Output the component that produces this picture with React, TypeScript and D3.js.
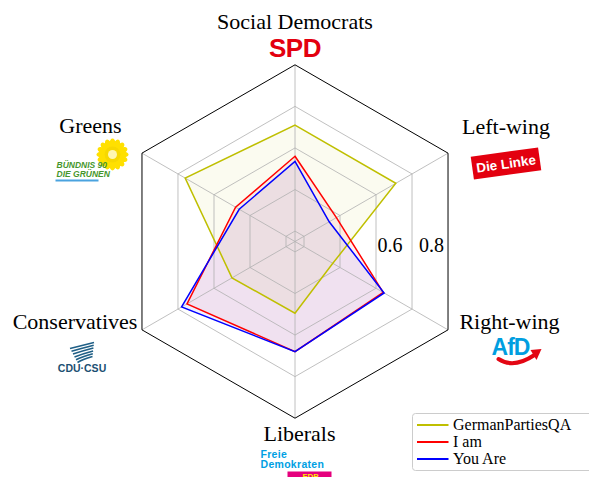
import React from 'react';
import * as d3 from 'd3';

// axes, clockwise from the top
const categories = ['Social Democrats', 'Left-wing', 'Right-wing', 'Liberals', 'Conservatives', 'Greens'];
const seriesNames = ['GermanPartiesQA', 'I am', 'You Are'];
const germanPartiesQA = [0.71, 0.71, 0.36, 0.495, 0.5, 0.76];
const iAm = [0.56, 0.38, 0.64, 0.68, 0.75, 0.48];
const youAre = [0.535, 0.34, 0.645, 0.68, 0.78, 0.46];
const gridTicks = [0.2, 0.4, 0.6, 0.8];
const labelledTicks = [0.6, 0.8];
const rDomain = [0.15, 1.0];

const W = 589;
const H = 477;
const cx = 295;
const cy = 241.5;
const R = 176.7;
const SERIF = '"Liberation Serif", "Times New Roman", serif';
const SANS = '"Liberation Sans", Arial, sans-serif';

const seriesColors = ['#bfbf00', '#ff0000', '#0000ff'];
const fillOpacity = [0.06, 0.06, 0.06];

// text baseline offsets from the centre for each axis label
const labelOffsets = [
  { dx: 0, dy: -212.5 },
  { dx: 211, dy: -108 },
  { dx: 214.5, dy: 87.5 },
  { dx: 4.5, dy: 199.5 },
  { dx: -220, dy: 87 },
  { dx: -204.5, dy: -109 },
];

const rScale = d3.scaleLinear().domain(rDomain).range([0, R]);
const angleOf = (i: number) => (i * 2 * Math.PI) / categories.length;

const radar = d3
  .lineRadial<number>()
  .angle((d, i) => angleOf(i))
  .radius((d) => rScale(d))
  .curve(d3.curveLinearClosed);

const ring = (v: number) => radar(categories.map(() => v)) as string;

function SpdLogo({ x, y }: { x: number; y: number }) {
  return (
    <text x={x} y={y} textAnchor="middle" fontFamily={SANS} fontWeight="bold" fontSize={26} fill="#e3000f" letterSpacing={-0.5}>
      SPD
    </text>
  );
}

function LinkeLogo({ x, y }: { x: number; y: number }) {
  return (
    <g transform={`translate(${x},${y}) rotate(-8)`}>
      <rect x={-34} y={-11.5} width={68} height={23} fill="#e3000f" />
      <text x={0} y={5} textAnchor="middle" fontFamily={SANS} fontWeight="bold" fontSize={13.5} fill="#fff">
        Die Linke
      </text>
    </g>
  );
}

function AfdLogo({ x, y }: { x: number; y: number }) {
  return (
    <g transform={`translate(${x},${y})`}>
      <text x={0} y={0} textAnchor="middle" fontFamily={SANS} fontWeight="bold" fontSize={23} fill="#009ee0" letterSpacing={-1}>
        AfD
      </text>
      <path d="M-12,4 Q3,14 24,0" fill="none" stroke="#e30613" strokeWidth={4} strokeLinecap="round" />
      <path d="M20,-5 L31,-6 L26,5 Z" fill="#e30613" />
    </g>
  );
}

function FdpLogo({ x, y }: { x: number; y: number }) {
  return (
    <g transform={`translate(${x},${y})`} fontFamily={SANS} fontWeight="bold" fill="#009fe3">
      <text x={0} y={0} fontSize={10.5} letterSpacing={0.3}>Freie</text>
      <text x={0} y={9.5} fontSize={10.5} letterSpacing={0.3}>Demokraten</text>
      <rect x={27} y={13.5} width={44} height={8} fill="#e5007d" />
      <text x={50} y={21} fontSize={8} fill="#ffed00" textAnchor="middle">FDP</text>
    </g>
  );
}

function CduLogo({ x, y }: { x: number; y: number }) {
  const stripes = [0, 1, 2, 3, 4, 5];
  return (
    <g transform={`translate(${x},${y})`}>
      {stripes.map((s) => (
        <path
          key={s}
          d={`M${-12 + s * 1.5},${-14 + s * 2.8} Q0,${-17 + s * 2.8} ${12 - s * 0.3},${-20 + s * 2.8}`}
          fill="none"
          stroke="#1f5f86"
          strokeWidth={1.6}
        />
      ))}
      <text x={0} y={9} textAnchor="middle" fontFamily={SANS} fontWeight="bold" fontSize={10.5} fill="#1b4f72">
        CDU·CSU
      </text>
    </g>
  );
}

function GreensLogo({ x, y }: { x: number; y: number }) {
  const petals = d3.range(16);
  return (
    <g transform={`translate(${x},${y})`}>
      <g transform="translate(22,-12)">
        {petals.map((p) => (
          <ellipse key={p} cx={0} cy={-11} rx={3} ry={5} fill="#ffe000" transform={`rotate(${(p * 360) / petals.length})`} />
        ))}
        <circle r={8} fill="#f7d800" />
        <circle r={4.5} fill="#fff6b0" />
      </g>
      <g fontFamily={SANS} fontWeight="bold" fontStyle="italic" fontSize={8.5} fill="#46962b">
        <text x={-34} y={1}>BÜNDNIS 90</text>
        <text x={-34} y={10}>DIE GRÜNEN</text>
      </g>
      <rect x={-35} y={13} width={43} height={2} fill="#4aa3df" />
    </g>
  );
}

const logos = [SpdLogo, LinkeLogo, AfdLogo, FdpLogo, CduLogo, GreensLogo];
// logo anchors relative to the label baseline
const logoOffsets = [
  { dx: 0, dy: 28 },
  { dx: 0, dy: 30 },
  { dx: 1, dy: 26 },
  { dx: -39, dy: 17 },
  { dx: 7, dy: 34 },
  { dx: 0, dy: 34 },
];

export default function App() {
  const series = [germanPartiesQA, iAm, youAre];

  return (
    <svg width={W} height={H} style={{ position: 'absolute', left: 0, top: 0, display: 'block' }}>
      <rect width={W} height={H} fill="#fff" />
      <g transform={`translate(${cx},${cy})`}>
        {/* filled areas */}
        {series.map((vals, i) => (
          <path key={`f${i}`} d={radar(vals) as string} fill={seriesColors[i]} fillOpacity={fillOpacity[i]} stroke="none" />
        ))}

        {/* grid */}
        {gridTicks.map((t) => (
          <path key={t} d={ring(t)} fill="none" stroke="#b0b0b0" strokeWidth={0.8} />
        ))}
        {categories.map((c, i) => {
          const a = angleOf(i);
          return (
            <line
              key={c}
              x1={0}
              y1={0}
              x2={R * Math.sin(a)}
              y2={-R * Math.cos(a)}
              stroke="#b0b0b0"
              strokeWidth={0.8}
            />
          );
        })}
        <path d={ring(rDomain[1])} fill="none" stroke="#000" strokeWidth={1} />

        {/* lines */}
        {series.map((vals, i) => (
          <path key={`l${i}`} d={radar(vals) as string} fill="none" stroke={seriesColors[i]} strokeWidth={1.5} strokeLinejoin="miter" />
        ))}

        {/* radial tick labels */}
        {labelledTicks.map((t) => (
          <text key={t} x={rScale(t) + 1.5} y={10.5} textAnchor="middle" fontFamily={SERIF} fontSize={20} fill="#000">
            {t.toFixed(1)}
          </text>
        ))}
      </g>

      {/* axis labels and party logos */}
      {categories.map((c, i) => {
        const lx = cx + labelOffsets[i].dx;
        const ly = cy + labelOffsets[i].dy;
        const Logo = logos[i];
        return (
          <g key={c}>
            <text x={lx} y={ly} textAnchor="middle" fontFamily={SERIF} fontSize={22} fill="#000">
              {c}
            </text>
            <Logo x={lx + logoOffsets[i].dx} y={ly + logoOffsets[i].dy} />
          </g>
        );
      })}

      {/* legend */}
      <g transform="translate(412.5,413.5)">
        <rect width={185} height={57} rx={3} fill="#fff" fillOpacity={0.8} stroke="#cccccc" strokeWidth={1} />
        {seriesNames.map((name, i) => (
          <g key={name} transform={`translate(0,${11.5 + i * 17})`}>
            <line x1={4.5} x2={36} y1={0} y2={0} stroke={seriesColors[i]} strokeWidth={2} />
            <text x={40.5} y={5} fontFamily={SERIF} fontSize={16} fill="#000">
              {name}
            </text>
          </g>
        ))}
      </g>
    </svg>
  );
}
